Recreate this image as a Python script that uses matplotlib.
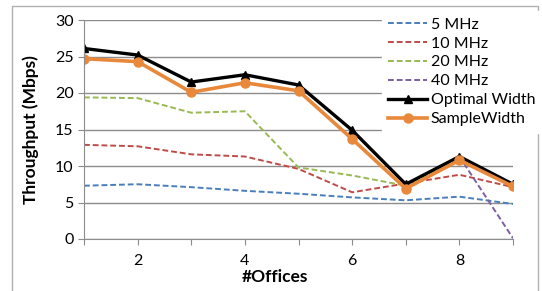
import matplotlib.pyplot as plt
from matplotlib.patches import Rectangle

offices = [1, 2, 3, 4, 5, 6, 7, 8, 9]
mhz5 = [7.3, 7.5, 7.1, 6.6, 6.2, 5.7, 5.3, 5.8, 4.8]
mhz10 = [12.9, 12.7, 11.6, 11.3, 9.6, 6.4, 7.6, 8.8, 7.1]
mhz20 = [19.4, 19.3, 17.3, 17.5, 9.8, 8.7, 7.3, 11.0, 7.3]
mhz40 = [26.1, 25.2, 21.5, 22.5, 21.1, 14.9, 7.5, 11.3, 0.1]
optimal = [26.1, 25.2, 21.5, 22.5, 21.1, 14.9, 7.5, 11.3, 7.5]
sample = [24.7, 24.3, 20.1, 21.4, 20.3, 13.7, 6.9, 10.8, 7.2]

plt.rcParams['font.family'] = ['Lato', 'DejaVu Sans']

fig = plt.figure(figsize=(5.42, 2.91), dpi=100)
ax = fig.add_axes([84 / 542, 1 - 239 / 291, (513 - 84) / 542, (239 - 20) / 291])

# outer chart frame
fig.patches.append(Rectangle((12 / 542, -0.05), (538 - 12) / 542, 1 - 6 / 291 + 0.05,
                             transform=fig.transFigure, fill=False,
                             edgecolor='#b0b0b0', lw=1))

ax.plot(offices, mhz5, color='#4a7ebb', ls=(0, (3, 1.5)), lw=1.4, label='5 MHz')
ax.plot(offices, mhz10, color='#be4b48', ls=(0, (3, 1.5)), lw=1.4, label='10 MHz')
ax.plot(offices, mhz20, color='#98b954', ls=(0, (3, 1.5)), lw=1.4, label='20 MHz')
ax.plot(offices, mhz40, color='#7d60a0', ls=(0, (3, 1.5)), lw=1.4, label='40 MHz')
ax.plot(offices, optimal, color='black', lw=2.4, marker='^', ms=6, label='Optimal Width')
ax.plot(offices, sample, color='#e8883a', lw=2.6, marker='o', ms=6.5, label='SampleWidth')

ax.set_xlim(1, 9)
ax.set_ylim(0, 30)
ax.set_yticks(range(0, 31, 5))
ax.set_xticks(offices)
ax.set_xticklabels(['' if o % 2 else str(o) for o in offices])
ax.yaxis.grid(True, color='#8c8c8c', lw=1)
ax.set_axisbelow(True)
for s in ['top', 'right']:
    ax.spines[s].set_visible(False)
for s in ['left', 'bottom']:
    ax.spines[s].set_color('#8c8c8c')
ax.tick_params(axis='both', colors='#8c8c8c', labelcolor='black', labelsize=11.5,
               length=4, direction='out')
ax.tick_params(axis='x', pad=7)

ax.set_xlabel('#Offices', fontsize=12.5, fontweight='bold')
ax.xaxis.set_label_coords(0.445, -0.135)
ax.set_ylabel('Throughput (Mbps)', fontsize=12.5, fontweight='bold')
ax.yaxis.set_label_coords(-0.105, 0.5)

leg = fig.legend(loc='upper left', bbox_to_anchor=(374 / 542, 1 - 3 / 291),
                 fontsize=11.5, handlelength=2.4, handletextpad=0.25,
                 labelspacing=0.3, borderpad=0.4, fancybox=False,
                 framealpha=1, edgecolor='white')

fig.savefig('out.png', dpi=100)
